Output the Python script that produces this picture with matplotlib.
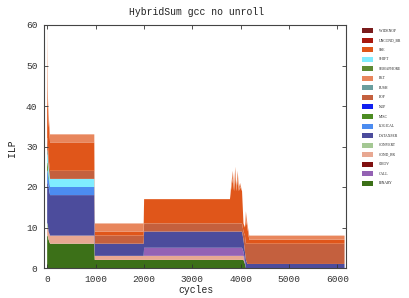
import matplotlib
matplotlib.use("Agg")
import matplotlib.pyplot as plt

W, H = 410, 298

# cycle sample points
cycles = [0, 10, 30, 60, 100, 975, 985, 1995, 2005, 3780, 3810, 3840, 3865, 3890,
          3915, 3940, 3965, 3990, 4030, 4060, 4090, 4110, 4140, 4180, 6150]

# per-category ILP contributions at each sample
BINARY    = [8, 8, 7, 6, 6, 6, 2, 2, 2, 2, 2, 2, 2, 2, 2, 2, 2, 2, 2, 2, 1, 0, 0, 0, 0]
COND_BR   = [2, 2, 2, 2, 2, 2, 1, 1, 1, 1, 1, 1, 1, 1, 1, 1, 1, 1, 1, 1, 0, 0, 0, 0, 0]
CALL      = [0, 0, 0, 0, 0, 0, 0, 0, 2, 2, 2, 2, 2, 2, 2, 2, 2, 2, 2, 1, 1, 0, 0, 0, 0]
CMOV      = [0] * 25
CONVERT   = [1, 1, 0, 0, 0, 0, 0, 0, 0, 0, 0, 0, 0, 0, 0, 0, 0, 0, 0, 0, 0, 0, 0, 0, 0]
DATAXFER  = [10, 10, 11, 10, 10, 10, 3, 3, 4, 4, 4, 4, 4, 4, 4, 4, 4, 4, 4, 3, 2, 2, 1, 1, 1]
LOGICAL   = [3, 3, 2, 2, 2, 2, 0, 0, 0, 0, 0, 0, 0, 0, 0, 0, 0, 0, 0, 0, 0, 0, 0, 0, 0]
MISC      = [2, 2, 1, 0, 0, 0, 0, 0, 0, 0, 0, 0, 0, 0, 0, 0, 0, 0, 0, 0, 0, 0, 0, 0, 0]
NOP       = [0] * 25
SHIFT     = [2, 2, 2, 2, 2, 2, 0, 0, 0, 0, 0, 0, 0, 0, 0, 0, 0, 0, 0, 0, 0, 0, 0, 0, 0]
PUSH      = [1, 1, 0, 0, 0, 0, 0, 0, 0, 0, 0, 0, 0, 0, 0, 0, 0, 0, 0, 0, 0, 0, 0, 0, 0]
SEMAPHORE = [0] * 25
POP       = [3, 3, 2, 2, 2, 2, 2, 2, 2, 2, 2, 2, 2, 2, 2, 2, 2, 2, 2, 2, 4, 4, 5, 5, 5]
SSE       = [23, 9, 9, 7, 7, 7, 1, 1, 6, 6, 9, 11, 8, 12, 8, 11, 8, 9, 8, 2, 2, 6, 4, 1, 1]
RET       = [5, 3, 2, 2, 2, 2, 2, 2, 0, 0, 1, 2, 1, 2, 1, 2, 1, 1, 0, 0, 0, 2, 1, 1, 1]
UNCOND_BR = [0] * 25
WIDENOP   = [0] * 25

stack_names = ["BINARY", "COND_BR", "CALL", "CMOV", "CONVERT", "DATAXFER", "LOGICAL",
               "MISC", "NOP", "SHIFT", "PUSH", "SEMAPHORE", "POP", "SSE", "RET",
               "UNCOND_BR", "WIDENOP"]
series = dict(BINARY=BINARY, COND_BR=COND_BR, CALL=CALL, CMOV=CMOV, CONVERT=CONVERT,
              DATAXFER=DATAXFER, LOGICAL=LOGICAL, MISC=MISC, NOP=NOP, SHIFT=SHIFT,
              PUSH=PUSH, SEMAPHORE=SEMAPHORE, POP=POP, SSE=SSE, RET=RET,
              UNCOND_BR=UNCOND_BR, WIDENOP=WIDENOP)

legend_names = ["WIDENOP", "UNCOND_BR", "SSE", "SHIFT", "SEMAPHORE", "RET", "PUSH", "POP",
                "NOP", "MISC", "LOGICAL", "DATAXFER", "CONVERT", "COND_BR", "CMOV",
                "CALL", "BINARY"]

colors = {
    "WIDENOP": "#7a1c1c", "UNCOND_BR": "#a8180e", "SSE": "#e0561a", "SHIFT": "#80ecff",
    "SEMAPHORE": "#5e8a34", "RET": "#e8865c", "PUSH": "#6a9e9e", "POP": "#c4603e",
    "NOP": "#1020f0", "MISC": "#4c8c22", "LOGICAL": "#4c8cf0", "DATAXFER": "#4c4c9c",
    "CONVERT": "#a4c894", "COND_BR": "#e8a892", "CMOV": "#801010", "CALL": "#9462b4",
    "BINARY": "#3c7018",
}

fig = plt.figure(figsize=(W / 100, H / 100), dpi=100)
ax = fig.add_axes([44.5 / W, 30 / H, (346 - 44.5) / W, (268 - 25) / H])

ax.stackplot(cycles, [series[n] for n in stack_names],
             colors=[colors[n] for n in stack_names], linewidth=0)

ax.set_xlim(-55, 6180)
ax.set_ylim(0, 60)
ax.set_xticks(range(0, 7000, 1000))
ax.set_yticks(range(0, 70, 10))
mono = "Liberation Mono"
ax.tick_params(direction="in", length=3, width=0.6, top=True, right=True,
               labelsize=6.8, pad=5, colors="#333333")
for lab in ax.get_xticklabels() + ax.get_yticklabels():
    lab.set_fontfamily(mono)
for s in ax.spines.values():
    s.set_linewidth(0.8)
    s.set_color("#444444")

fig.text(197 / W, 1 - 12 / H, "HybridSum gcc no unroll", ha="center", va="center",
         fontsize=7, family=mono, color="#222222")
fig.text(12 / W, 1 - 148 / H, "ILP", ha="center", va="center", rotation=90,
         fontsize=7, family=mono, color="#222222")
fig.text(196 / W, 1 - 290 / H, "cycles", ha="center", va="center",
         fontsize=7, family=mono, color="#222222")

# legend
for i, name in enumerate(legend_names):
    yc = 30.5 + i * 9.56
    fig.patches.append(plt.Rectangle((362 / W, 1 - (yc + 2.5) / H), 11 / W, 5 / H,
                                     transform=fig.transFigure, color=colors[name], lw=0))
    fig.text(379 / W, 1 - yc / H, name, ha="left", va="center", fontsize=2.7,
             family="Liberation Serif", color="#222222")

fig.savefig("out.png", dpi=100)
